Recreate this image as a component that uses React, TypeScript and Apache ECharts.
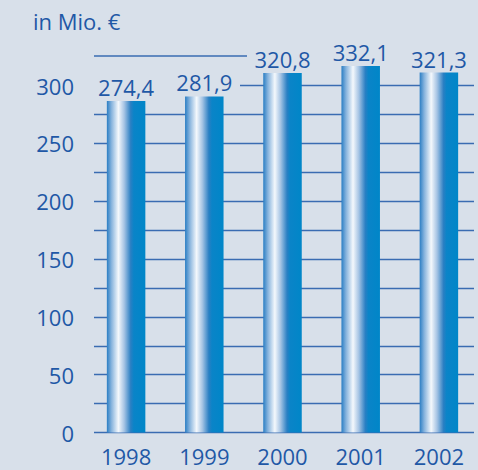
import React, { useEffect, useRef } from "react";
import * as echarts from "echarts";

const years = ["1998", "1999", "2000", "2001", "2002"];
const revenue = [274.4, 281.9, 320.8, 332.1, 321.3];
const unitLabel = "in Mio. €";
const axisMin = 0;
const axisMax = 300;
const axisStep = 25;
const labelStep = 50;
// the bars in the source image use a compressed (broken) value scale
const barScaleMin = -274;
const barScaleMax = 300;

const BG = "#d8e0ea";
const TEXT = "#1f58a6";
const GRID = "#3a6cb2";
const FONT = "'Open Sans', 'Noto Sans', sans-serif";

export default function App() {
  const ref = useRef<HTMLDivElement>(null);
  useEffect(() => {
    if (!ref.current) return;
    const chart = echarts.init(ref.current, null, { renderer: "svg" });
    const top = 85.5;
    const bottom = 37.5;
    const barFill = new echarts.graphic.LinearGradient(0, 0, 1, 0, [
      { offset: 0, color: "#2a7ec4" },
      { offset: 0.12, color: "#86b3dd" },
      { offset: 0.3, color: "#f4f8fc" },
      { offset: 0.45, color: "#a6c4e4" },
      { offset: 0.62, color: "#2a7fc3" },
      { offset: 0.7, color: "#0a84c8" },
      { offset: 1, color: "#0086c8" },
    ]);
    const option: any = {
      animation: false,
      backgroundColor: BG,
      textStyle: { fontFamily: FONT },
      title: {
        text: unitLabel,
        left: 33,
        top: 10,
        padding: 0,
        textStyle: { color: TEXT, fontSize: 22, fontWeight: "normal", fontFamily: FONT },
      },
      grid: [
        { left: 94, right: 4, top, bottom },
        { left: 87, width: 396, top, bottom },
      ],
      xAxis: [
        { type: "value", gridIndex: 0, show: false, min: 0, max: 1 },
        {
          type: "category",
          gridIndex: 1,
          data: years,
          axisLine: { show: false },
          axisTick: { show: false },
          axisLabel: { color: TEXT, fontSize: 22, fontFamily: FONT, margin: 12 },
        },
      ],
      yAxis: [
        {
          type: "value",
          gridIndex: 0,
          min: axisMin,
          max: axisMax,
          interval: axisStep,
          axisLine: { show: false },
          axisTick: { show: false },
          axisLabel: {
            color: TEXT,
            fontSize: 22,
            fontFamily: FONT,
            margin: 20,
            formatter: (v: number) => (v % labelStep === 0 ? String(v) : ""),
          },
          splitLine: { show: true, showMaxLine: false, lineStyle: { color: GRID, width: 1.4 } },
        },
        {
          type: "value",
          gridIndex: 1,
          min: barScaleMin,
          max: barScaleMax,
          show: false,
          splitLine: { show: false },
        },
      ],
      graphic: [
        { type: "line", shape: { x1: 94, y1: 56, x2: 247, y2: 56 }, style: { stroke: GRID, lineWidth: 1.4 } },
        { type: "line", shape: { x1: 240, y1: top, x2: 474, y2: top }, style: { stroke: GRID, lineWidth: 1.4 } },
      ],
      series: [
        {
          type: "custom",
          xAxisIndex: 1,
          yAxisIndex: 1,
          data: revenue.map((v, i) => [i, v]),
          z: 5,
          clip: false,
          renderItem: (params: any, api: any) => {
            const idx = api.value(0);
            const val = api.value(1);
            const pTop = api.coord([idx, val]);
            const pBase = api.coord([idx, barScaleMin]);
            const w = 38.5;
            return {
              type: "group",
              children: [
                {
                  type: "rect",
                  shape: { x: pTop[0] - w / 2, y: pTop[1], width: w, height: pBase[1] - pTop[1] },
                  style: { fill: barFill },
                },
                {
                  type: "text",
                  x: pTop[0],
                  y: pTop[1] - 3,
                  style: {
                    text: String(revenue[params.dataIndex]).replace(".", ","),
                    fill: TEXT,
                    fontSize: 22,
                    fontFamily: FONT,
                    align: "center",
                    verticalAlign: "bottom",
                  },
                },
              ],
            };
          },
        },
      ],
    };
    chart.setOption(option);
    return () => chart.dispose();
  }, []);
  return (
    <div
      ref={ref}
      style={{ position: "fixed", left: 0, top: 0, width: 478, height: 470 }}
    />
  );
}
